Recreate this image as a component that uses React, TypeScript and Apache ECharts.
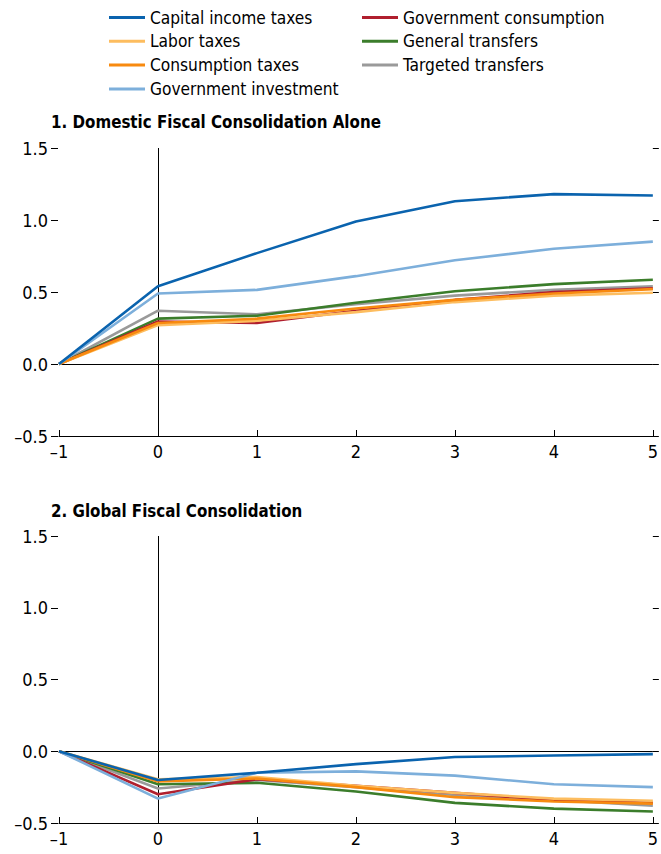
import React, { useEffect, useRef } from "react";
import * as echarts from "echarts";

const years = [-1, 0, 1, 2, 3, 4, 5];
const seriesNames = [
  "Capital income taxes",
  "Labor taxes",
  "Consumption taxes",
  "Government investment",
  "Government consumption",
  "General transfers",
  "Targeted transfers",
];
const seriesColors = ["#0A63AE", "#FDBD5F", "#F88A0F", "#7DAFDB", "#B01F2E", "#3B7D2B", "#9A9A9A"];

// Panel 1: Domestic fiscal consolidation alone
const domCapital = [0, 0.54, 0.77, 0.99, 1.13, 1.18, 1.17];
const domLabor = [0, 0.27, 0.3, 0.36, 0.43, 0.475, 0.495];
const domConsumption = [0, 0.285, 0.315, 0.385, 0.445, 0.49, 0.52];
const domInvestment = [0, 0.49, 0.515, 0.61, 0.72, 0.8, 0.85];
const domGovCons = [0, 0.295, 0.285, 0.37, 0.445, 0.5, 0.525];
const domGeneral = [0, 0.315, 0.335, 0.425, 0.505, 0.555, 0.585];
const domTargeted = [0, 0.37, 0.345, 0.415, 0.475, 0.515, 0.54];

// Panel 2: Global fiscal consolidation
const globCapital = [0, -0.2, -0.15, -0.09, -0.04, -0.03, -0.02];
const globLabor = [0, -0.195, -0.18, -0.24, -0.29, -0.33, -0.345];
const globConsumption = [0, -0.21, -0.19, -0.25, -0.32, -0.35, -0.365];
const globInvestment = [0, -0.33, -0.15, -0.14, -0.17, -0.23, -0.25];
const globGovCons = [0, -0.3, -0.195, -0.24, -0.29, -0.34, -0.36];
const globGeneral = [0, -0.23, -0.22, -0.28, -0.36, -0.4, -0.42];
const globTargeted = [0, -0.26, -0.2, -0.25, -0.305, -0.34, -0.38];

const domData = [domCapital, domLabor, domConsumption, domInvestment, domGovCons, domGeneral, domTargeted];
const globData = [globCapital, globLabor, globConsumption, globInvestment, globGovCons, globGeneral, globTargeted];

const yTicks = { min: -0.5, max: 1.5, interval: 0.5 };
const panelTitles = ["1. Domestic Fiscal Consolidation Alone", "2. Global Fiscal Consolidation"];

const FONT = "'DejaVu Sans Condensed', 'Liberation Sans Narrow', 'Roboto', sans-serif";
const drawOrder = [6, 5, 4, 1, 2, 3, 0];

export default function App() {
  const ref = useRef<HTMLDivElement>(null);
  useEffect(() => {
    if (!ref.current) return;
    const chart = echarts.init(ref.current, undefined, { renderer: "svg" });
    const fmt = (v: number) => (v < 0 ? "\u2013" + Math.abs(v).toFixed(1) : v.toFixed(1));
    const grids = [
      { left: 59, right: 5, top: 148, height: 288 },
      { left: 59, right: 5, top: 536, height: 287 },
    ];
    const xAxes: any[] = [0, 1].map((g) => ({
      type: "value",
      gridIndex: g,
      min: -1,
      max: 5,
      interval: 1,
      axisLine: { show: true, onZero: false, lineStyle: { color: "#000", width: 1.2 } },
      axisTick: { show: true, inside: true, length: 6, lineStyle: { color: "#000" } },
      axisLabel: {
        show: true,
        color: "#000",
        fontFamily: FONT,
        fontSize: 18,
        margin: 6,
        formatter: (v: number) => (v < 0 ? "\u2013" + Math.abs(v) : String(v)),
      },
      splitLine: { show: false },
    }));
    const yAxes: any[] = [];
    [0, 1].forEach((g) => {
      yAxes.push({
        type: "value",
        gridIndex: g,
        position: "left",
        offset: 1,
        ...yTicks,
        axisLine: { show: true, onZero: false, lineStyle: { color: "#000", opacity: 0 } },
        axisTick: { show: true, length: 7, lineStyle: { color: "#000", opacity: 1, width: 1 } },
        axisLabel: { color: "#000", fontFamily: FONT, fontSize: 18, margin: 10, formatter: fmt },
        splitLine: { show: false },
      });
    });
    [0, 1].forEach((g) => {
      yAxes.push({
        type: "value",
        gridIndex: g,
        position: "right",
        ...yTicks,
        axisLine: { show: true, onZero: false, lineStyle: { color: "#000", opacity: 0 } },
        axisTick: { show: true, length: 6, lineStyle: { color: "#000", opacity: 1, width: 1 } },
        axisLabel: { show: false },
        splitLine: { show: false },
      });
    });
    const series: any[] = [];
    [domData, globData].forEach((data, g) => {
      drawOrder.forEach((i, k) => {
        series.push({
          type: "line",
          name: seriesNames[i],
          xAxisIndex: g,
          yAxisIndex: g,
          data: years.map((x, j) => [x, data[i][j]]),
          symbol: "none",
          color: seriesColors[i],
          lineStyle: { width: 2.6, color: seriesColors[i] },
          z: 3 + k,
          markLine:
            k === 0
              ? {
                  silent: true,
                  symbol: "none",
                  label: { show: false },
                  lineStyle: { color: "#000", width: 1, type: "solid" },
                  data: [{ yAxis: 0 }, { xAxis: 0 }],
                  z: 2,
                }
              : undefined,
        });
      });
    });
    const legendText = { color: "#000", fontFamily: FONT, fontSize: 17.2 };
    const titleStyle = { fontFamily: FONT, fontSize: 16.8, fontWeight: "bold", color: "#000" };
    chart.setOption({
      animation: false,
      backgroundColor: "#fff",
      title: [
        { text: panelTitles[0], left: 46, top: 108, textStyle: titleStyle },
        { text: panelTitles[1], left: 46, top: 497, textStyle: titleStyle },
      ],
      legend: [
        {
          data: seriesNames.slice(0, 4),
          orient: "vertical",
          left: 104,
          top: 4,
          itemGap: 6.8,
          itemWidth: 36,
          itemHeight: 3,
          icon: "rect",
          textStyle: legendText,
          selectedMode: false,
        },
        {
          data: seriesNames.slice(4),
          orient: "vertical",
          left: 357,
          top: 4,
          itemGap: 6.8,
          itemWidth: 36,
          itemHeight: 3,
          icon: "rect",
          textStyle: legendText,
          selectedMode: false,
        },
      ],
      grid: grids,
      xAxis: xAxes,
      yAxis: yAxes,
      series,
    });
    return () => chart.dispose();
  }, []);
  return <div ref={ref} style={{ width: 661, height: 854, position: "absolute", left: 0, top: 0 }} />;
}
